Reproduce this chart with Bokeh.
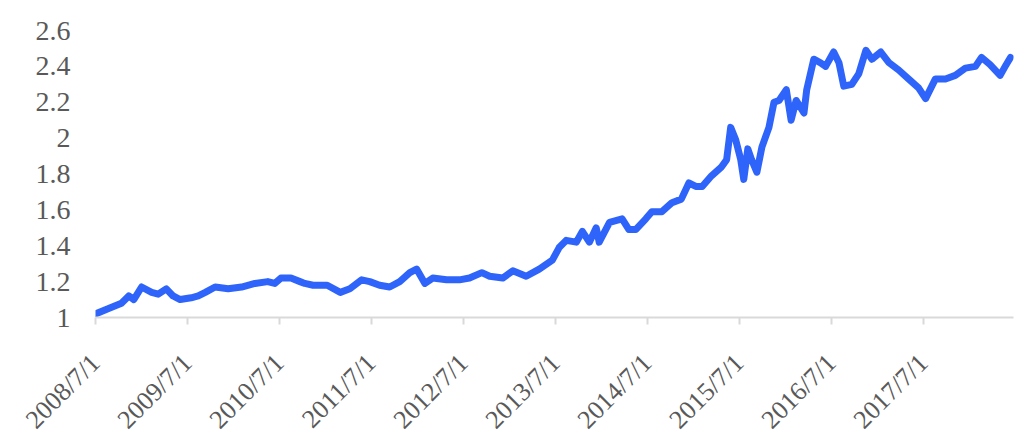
import pandas as pd
from bokeh.plotting import figure
from bokeh.models import FixedTicker, CustomJSTickFormatter, Range1d
from bokeh.embed import file_html
from bokeh.resources import INLINE
from math import pi

dates = [
    "2008-07-01", "2008-08-22", "2008-10-12", "2008-11-10", "2008-11-30", "2008-12-31",
    "2009-02-09", "2009-03-07", "2009-04-08", "2009-05-05", "2009-06-02", "2009-07-16",
    "2009-08-13", "2009-09-10", "2009-10-19", "2009-12-10", "2010-02-01", "2010-03-26",
    "2010-05-16", "2010-06-13", "2010-07-07", "2010-08-16", "2010-09-21", "2010-10-10",
    "2010-11-12", "2011-01-07", "2011-02-28", "2011-04-07", "2011-05-24", "2011-06-25",
    "2011-08-03", "2011-09-12", "2011-10-22", "2011-12-01", "2011-12-28", "2012-01-30",
    "2012-03-01", "2012-04-25", "2012-06-15", "2012-07-25", "2012-09-12", "2012-10-13",
    "2012-12-04", "2013-01-13", "2013-03-07", "2013-04-28", "2013-06-19", "2013-07-16",
    "2013-08-13", "2013-09-22", "2013-10-16", "2013-11-13", "2013-12-10", "2013-12-22",
    "2014-02-01", "2014-03-23", "2014-04-19", "2014-05-16", "2014-06-25", "2014-07-19",
    "2014-08-28", "2014-10-07", "2014-11-13", "2014-12-13", "2015-01-12", "2015-02-04",
    "2015-03-13", "2015-04-22", "2015-05-12", "2015-05-28", "2015-06-17", "2015-07-07",
    "2015-07-19", "2015-08-04", "2015-08-19", "2015-09-09", "2015-09-29", "2015-10-27",
    "2015-11-16", "2015-12-06", "2016-01-04", "2016-01-23", "2016-02-12", "2016-03-14",
    "2016-03-25", "2016-04-22", "2016-05-19", "2016-06-08", "2016-07-10", "2016-07-31",
    "2016-08-19", "2016-09-20", "2016-10-18", "2016-11-15", "2016-12-09", "2017-01-13",
    "2017-02-15", "2017-03-25", "2017-05-03", "2017-06-12", "2017-07-10", "2017-08-18",
    "2017-09-27", "2017-11-05", "2017-12-15", "2018-01-24", "2018-02-17", "2018-03-23",
    "2018-05-02", "2018-05-22", "2018-06-12",
]
values = [
    1.02, 1.05, 1.08, 1.12, 1.10, 1.17,
    1.14, 1.13, 1.16, 1.12, 1.10, 1.11,
    1.12, 1.14, 1.17, 1.16, 1.17, 1.19,
    1.20, 1.19, 1.22, 1.22, 1.20, 1.19,
    1.18, 1.18, 1.14, 1.16, 1.21, 1.20,
    1.18, 1.17, 1.20, 1.25, 1.27, 1.19,
    1.22, 1.21, 1.21, 1.22, 1.25, 1.23,
    1.22, 1.26, 1.23, 1.27, 1.32, 1.39,
    1.43, 1.42, 1.48, 1.42, 1.50, 1.42,
    1.53, 1.55, 1.49, 1.49, 1.55, 1.59,
    1.59, 1.64, 1.66, 1.75, 1.73, 1.73,
    1.79, 1.84, 1.88, 2.06, 1.99, 1.88,
    1.77, 1.94, 1.88, 1.81, 1.95, 2.06,
    2.20, 2.21, 2.27, 2.10, 2.21, 2.14,
    2.27, 2.44, 2.42, 2.40, 2.48, 2.42,
    2.29, 2.30, 2.36, 2.49, 2.44, 2.48,
    2.42, 2.38, 2.33, 2.28, 2.22, 2.33,
    2.33, 2.35, 2.39, 2.40, 2.45, 2.41,
    2.35, 2.40, 2.45,
]

x_tick_dates = ["2008-07-01", "2009-07-01", "2010-07-01", "2011-07-01", "2012-07-01",
                "2013-07-01", "2014-07-01", "2015-07-01", "2016-07-01", "2017-07-01"]
y_tick_values = [1.0, 1.2, 1.4, 1.6, 1.8, 2.0, 2.2, 2.4, 2.6]
y_tick_labels = ["1", "1.2", "1.4", "1.6", "1.8", "2", "2.2", "2.4", "2.6"]

x = pd.to_datetime(dates)

p = figure(frame_width=918, frame_height=287, x_axis_type="datetime",
           output_backend="svg", toolbar_location=None,
           min_border_left=95, min_border_right=12, min_border_top=30, min_border_bottom=20)
p.x_range = Range1d(pd.Timestamp("2008-07-01"), pd.Timestamp("2018-06-24"))
p.y_range = Range1d(1.0, 2.6)
p.outline_line_color = None
p.xgrid.grid_line_color = None
p.ygrid.grid_line_color = None
p.background_fill_color = "white"
p.border_fill_color = "white"

p.line(x, values, line_color="#2F64FA", line_width=7, line_join="round", line_cap="round")

font = "Liberation Serif"
tick_ms = [pd.Timestamp(d).value // 10**6 for d in x_tick_dates]
xa = p.xaxis[0]
xa.ticker = FixedTicker(ticks=tick_ms, minor_ticks=[])
xa.formatter = CustomJSTickFormatter(code="""
const d = new Date(tick);
return d.getUTCFullYear() + '/' + (d.getUTCMonth() + 1) + '/' + d.getUTCDate();
""")
xa.major_label_orientation = pi / 4
xa.axis_line_color = "#d9d9d9"
xa.axis_line_width = 2
xa.major_tick_line_color = "#d9d9d9"
xa.major_tick_line_width = 2
xa.major_tick_in = 0
xa.major_tick_out = 7
xa.minor_tick_line_color = None
xa.major_label_text_font = font
xa.major_label_text_font_size = "26px"
xa.major_label_text_color = "#595959"
xa.major_label_standoff = 34

ya = p.yaxis[0]
ya.ticker = FixedTicker(ticks=y_tick_values, minor_ticks=[])
ya.major_label_overrides = {v: l for v, l in zip(y_tick_values, y_tick_labels)}
ya.axis_line_color = None
ya.major_tick_line_color = None
ya.minor_tick_line_color = None
ya.major_tick_in = 0
ya.major_tick_out = 0
ya.major_label_text_font = font
ya.major_label_text_font_size = "28px"
ya.major_label_text_color = "#595959"
ya.major_label_standoff = 25

open("out.html", "w").write(file_html(p, INLINE))
